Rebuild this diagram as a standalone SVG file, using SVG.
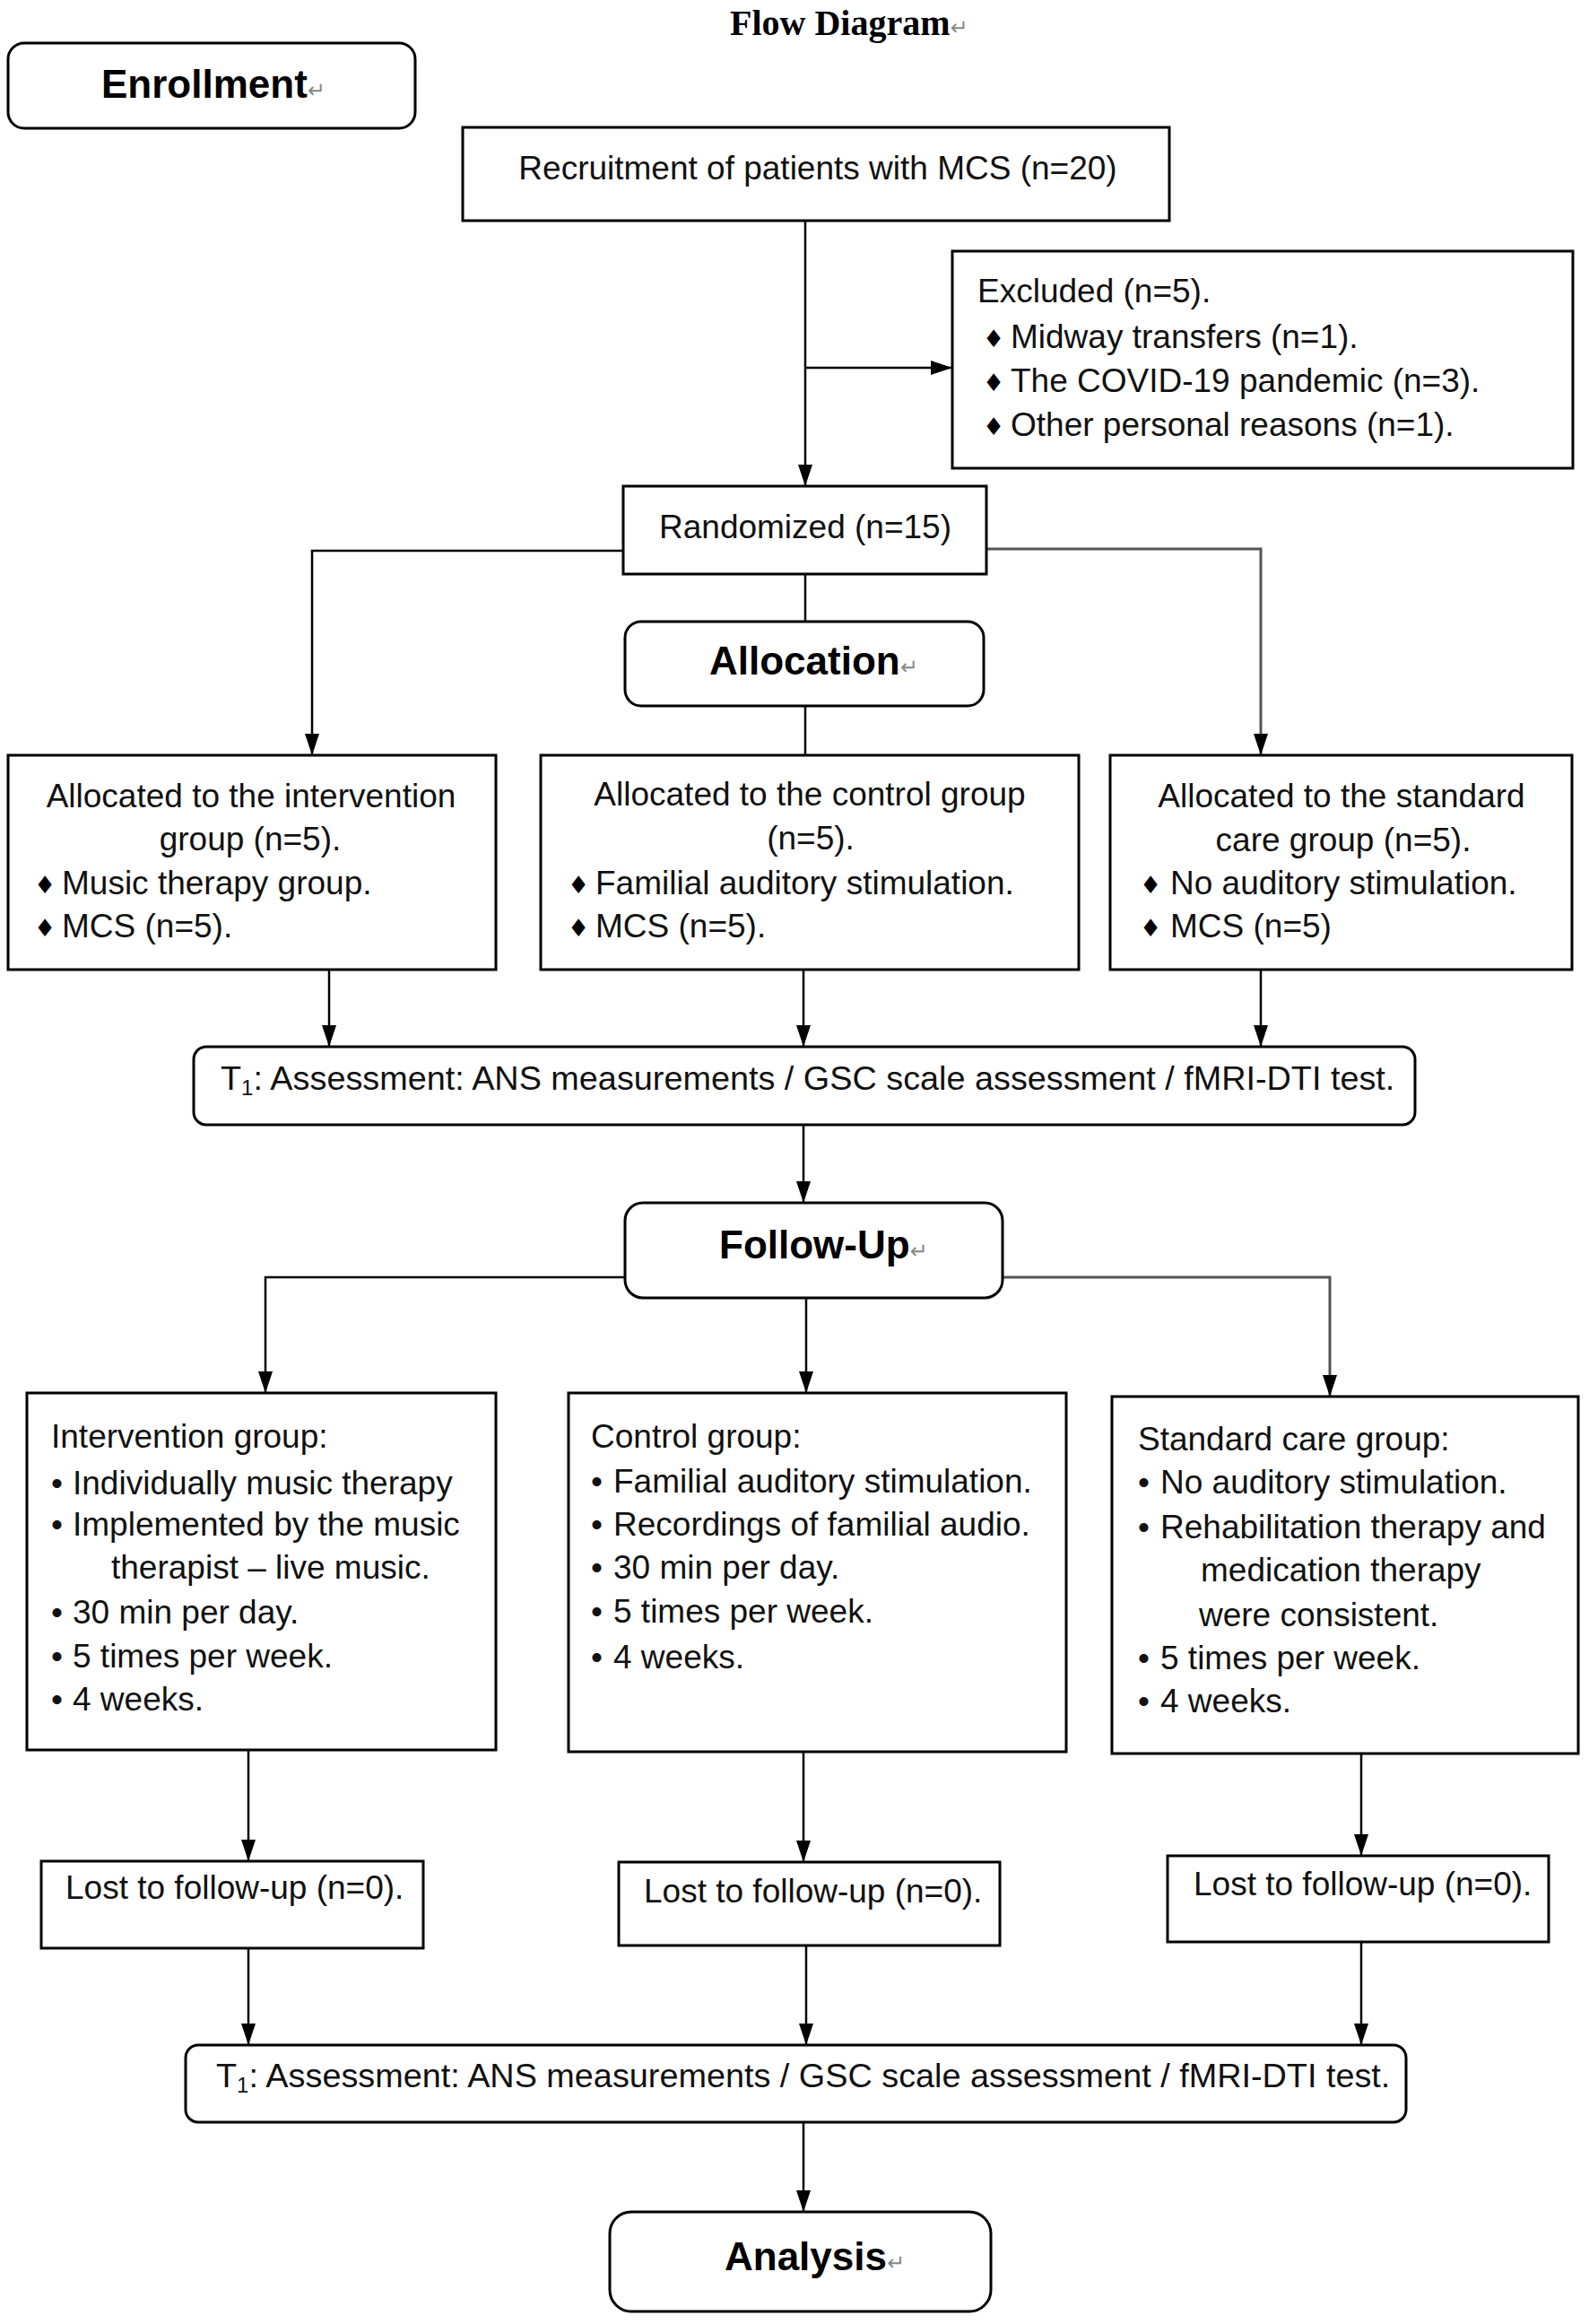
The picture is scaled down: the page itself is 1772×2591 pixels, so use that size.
<svg xmlns="http://www.w3.org/2000/svg" width="1772" height="2591" viewBox="0 0 1772 2591">
<defs>
<style>
.box{fill:#fff;stroke:#000;stroke-width:3}
.t{font-family:"Liberation Sans",Arial,sans-serif;font-size:37px;fill:#111}
.t1{font-size:37.8px}
.h{font-family:"Liberation Sans",Arial,sans-serif;font-weight:bold;font-size:44px;fill:#000}
.ttl{font-family:"Liberation Serif","Times New Roman",serif;font-weight:bold;font-size:40px;fill:#000}
.ret{font-family:"DejaVu Sans",sans-serif;font-weight:normal;font-size:24px;fill:#888}
.b{font-family:"DejaVu Sans",sans-serif;font-size:27px;fill:#000}
.m{text-anchor:middle}
.c{stroke:#000;stroke-width:2.5;fill:none}
.g{stroke:#555;stroke-width:3}
</style>
<marker id="a" markerUnits="userSpaceOnUse" markerWidth="24" markerHeight="16" refX="24" refY="8" orient="auto">
<path d="M0,0 L24,8 L0,16 z" fill="#000"/>
</marker>
</defs>
<rect width="1772" height="2591" fill="#fff"/>

<g id="title"><text class="ttl" x="814" y="39">Flow Diagram<tspan class="ret">↵</tspan></text></g>

<g id="connectors">
<path class="c" d="M898,246 V542" marker-end="url(#a)"/>
<path class="c" d="M898,410 H1062" marker-end="url(#a)"/>
<path class="c" d="M695,614 H348 V842" marker-end="url(#a)"/>
<path class="c g" d="M1100,612 H1406 V842" marker-end="url(#a)"/>
<path class="c" d="M898,640 V693"/>
<path class="c" d="M898,787 V842"/>
<path class="c" d="M367,1081 V1167" marker-end="url(#a)"/>
<path class="c" d="M896,1081 V1167" marker-end="url(#a)"/>
<path class="c" d="M1406,1081 V1167" marker-end="url(#a)"/>
<path class="c" d="M896,1254 V1341" marker-end="url(#a)"/>
<path class="c" d="M697,1424 H296 V1553" marker-end="url(#a)"/>
<path class="c g" d="M1118,1424 H1483 V1557" marker-end="url(#a)"/>
<path class="c" d="M899,1447 V1553" marker-end="url(#a)"/>
<path class="c" d="M277,1951 V2075" marker-end="url(#a)"/>
<path class="c" d="M896,1953 V2076" marker-end="url(#a)"/>
<path class="c" d="M1518,1955 V2069" marker-end="url(#a)"/>
<path class="c" d="M277,2172 V2280" marker-end="url(#a)"/>
<path class="c" d="M899,2169 V2280" marker-end="url(#a)"/>
<path class="c" d="M1518,2165 V2280" marker-end="url(#a)"/>
<path class="c" d="M896,2366 V2466" marker-end="url(#a)"/>
</g>

<g id="enrollment">
<rect class="box" x="9" y="48" width="454" height="95" rx="18"/>
<text class="h" x="113" y="109">Enrollment<tspan class="ret">↵</tspan></text>
</g>

<g id="recruitment">
<rect class="box" x="516" y="142" width="788" height="104"/>
<text class="t m" x="912" y="200">Recruitment of patients with MCS (n=20)</text>
</g>

<g id="excluded">
<rect class="box" x="1062" y="280" width="692" height="242"/>
<text class="t" x="1090" y="337">Excluded (n=5).</text>
<text class="b" x="1096" y="387">♦</text><text class="t" x="1127" y="388">Midway transfers (n=1).</text>
<text class="b" x="1096" y="436">♦</text><text class="t" x="1127" y="437">The COVID-19 pandemic (n=3).</text>
<text class="b" x="1096" y="485">♦</text><text class="t" x="1127" y="486">Other personal reasons (n=1).</text>
</g>

<g id="randomized">
<rect class="box" x="695" y="542" width="405" height="98"/>
<text class="t m" x="898" y="600">Randomized (n=15)</text>
</g>

<g id="allocation">
<rect class="box" x="697" y="693" width="400" height="94" rx="18"/>
<text class="h" x="791" y="752">Allocation<tspan class="ret">↵</tspan></text>
</g>

<g id="alloc-intervention">
<rect class="box" x="9" y="842" width="544" height="239"/>
<text class="t m" x="280" y="900">Allocated to the intervention</text>
<text class="t m" x="279" y="948">group (n=5).</text>
<text class="b" x="38" y="996">♦</text><text class="t" x="69" y="997">Music therapy group.</text>
<text class="b" x="38" y="1044">♦</text><text class="t" x="69" y="1045">MCS (n=5).</text>
</g>

<g id="alloc-control">
<rect class="box" x="603" y="842" width="600" height="239"/>
<text class="t m" x="903" y="898">Allocated to the control group</text>
<text class="t m" x="904" y="947">(n=5).</text>
<text class="b" x="633" y="996">♦</text><text class="t" x="664" y="997">Familial auditory stimulation.</text>
<text class="b" x="633" y="1044">♦</text><text class="t" x="664" y="1045">MCS (n=5).</text>
</g>

<g id="alloc-standard">
<rect class="box" x="1238" y="842" width="515" height="239"/>
<text class="t m" x="1496" y="900">Allocated to the standard</text>
<text class="t m" x="1498" y="949">care group (n=5).</text>
<text class="b" x="1271" y="996">♦</text><text class="t" x="1305" y="997">No auditory stimulation.</text>
<text class="b" x="1271" y="1044">♦</text><text class="t" x="1305" y="1045">MCS (n=5)</text>
</g>

<g id="t1-first">
<rect class="box" x="216" y="1167" width="1362" height="87" rx="14"/>
<text class="t t1" x="246" y="1215">T<tspan font-size="24" dy="6">1</tspan><tspan dy="-6">: Assessment: ANS measurements / GSC scale assessment / fMRI-DTI test.</tspan></text>
</g>

<g id="followup">
<rect class="box" x="697" y="1341" width="421" height="106" rx="20"/>
<text class="h" x="802" y="1403">Follow-Up<tspan class="ret">↵</tspan></text>
</g>

<g id="fu-intervention">
<rect class="box" x="30" y="1553" width="523" height="398"/>
<text class="t" x="57" y="1614">Intervention group:</text>
<text class="t" x="57" y="1666">•</text><text class="t" x="81" y="1666">Individually music therapy</text>
<text class="t" x="57" y="1712">•</text><text class="t" x="81" y="1712">Implemented by the music</text>
<text class="t" x="124" y="1760">therapist – live music.</text>
<text class="t" x="57" y="1810">•</text><text class="t" x="81" y="1810">30 min per day.</text>
<text class="t" x="57" y="1859">•</text><text class="t" x="81" y="1859">5 times per week.</text>
<text class="t" x="57" y="1907">•</text><text class="t" x="81" y="1907">4 weeks.</text>
</g>

<g id="fu-control">
<rect class="box" x="634" y="1553" width="555" height="400"/>
<text class="t" x="659" y="1614">Control group:</text>
<text class="t" x="659" y="1664">•</text><text class="t" x="684" y="1664">Familial auditory stimulation.</text>
<text class="t" x="659" y="1712">•</text><text class="t" x="684" y="1712">Recordings of familial audio.</text>
<text class="t" x="659" y="1760">•</text><text class="t" x="684" y="1760">30 min per day.</text>
<text class="t" x="659" y="1809">•</text><text class="t" x="684" y="1809">5 times per week.</text>
<text class="t" x="659" y="1860">•</text><text class="t" x="684" y="1860">4 weeks.</text>
</g>

<g id="fu-standard">
<rect class="box" x="1240" y="1557" width="520" height="398"/>
<text class="t" x="1269" y="1617">Standard care group:</text>
<text class="t" x="1269" y="1665">•</text><text class="t" x="1294" y="1665">No auditory stimulation.</text>
<text class="t" x="1269" y="1715">•</text><text class="t" x="1294" y="1715">Rehabilitation therapy and</text>
<text class="t" x="1339" y="1763">medication therapy</text>
<text class="t" x="1337" y="1813">were consistent.</text>
<text class="t" x="1269" y="1861">•</text><text class="t" x="1294" y="1861">5 times per week.</text>
<text class="t" x="1269" y="1909">•</text><text class="t" x="1294" y="1909">4 weeks.</text>
</g>

<g id="lost-intervention">
<rect class="box" x="46" y="2075" width="426" height="97"/>
<text class="t" x="73" y="2117">Lost to follow-up (n=0).</text>
</g>

<g id="lost-control">
<rect class="box" x="690" y="2076" width="425" height="93"/>
<text class="t" x="718" y="2121">Lost to follow-up (n=0).</text>
</g>

<g id="lost-standard">
<rect class="box" x="1302" y="2069" width="425" height="96"/>
<text class="t" x="1331" y="2113">Lost to follow-up (n=0).</text>
</g>

<g id="t1-second">
<rect class="box" x="207" y="2280" width="1361" height="86" rx="14"/>
<text class="t t1" x="241" y="2327">T<tspan font-size="24" dy="6">1</tspan><tspan dy="-6">: Assessment: ANS measurements / GSC scale assessment / fMRI-DTI test.</tspan></text>
</g>

<g id="analysis">
<rect class="box" x="680" y="2466" width="425" height="111" rx="24"/>
<text class="h" x="808" y="2531">Analysis<tspan class="ret">↵</tspan></text>
</g>
</svg>
